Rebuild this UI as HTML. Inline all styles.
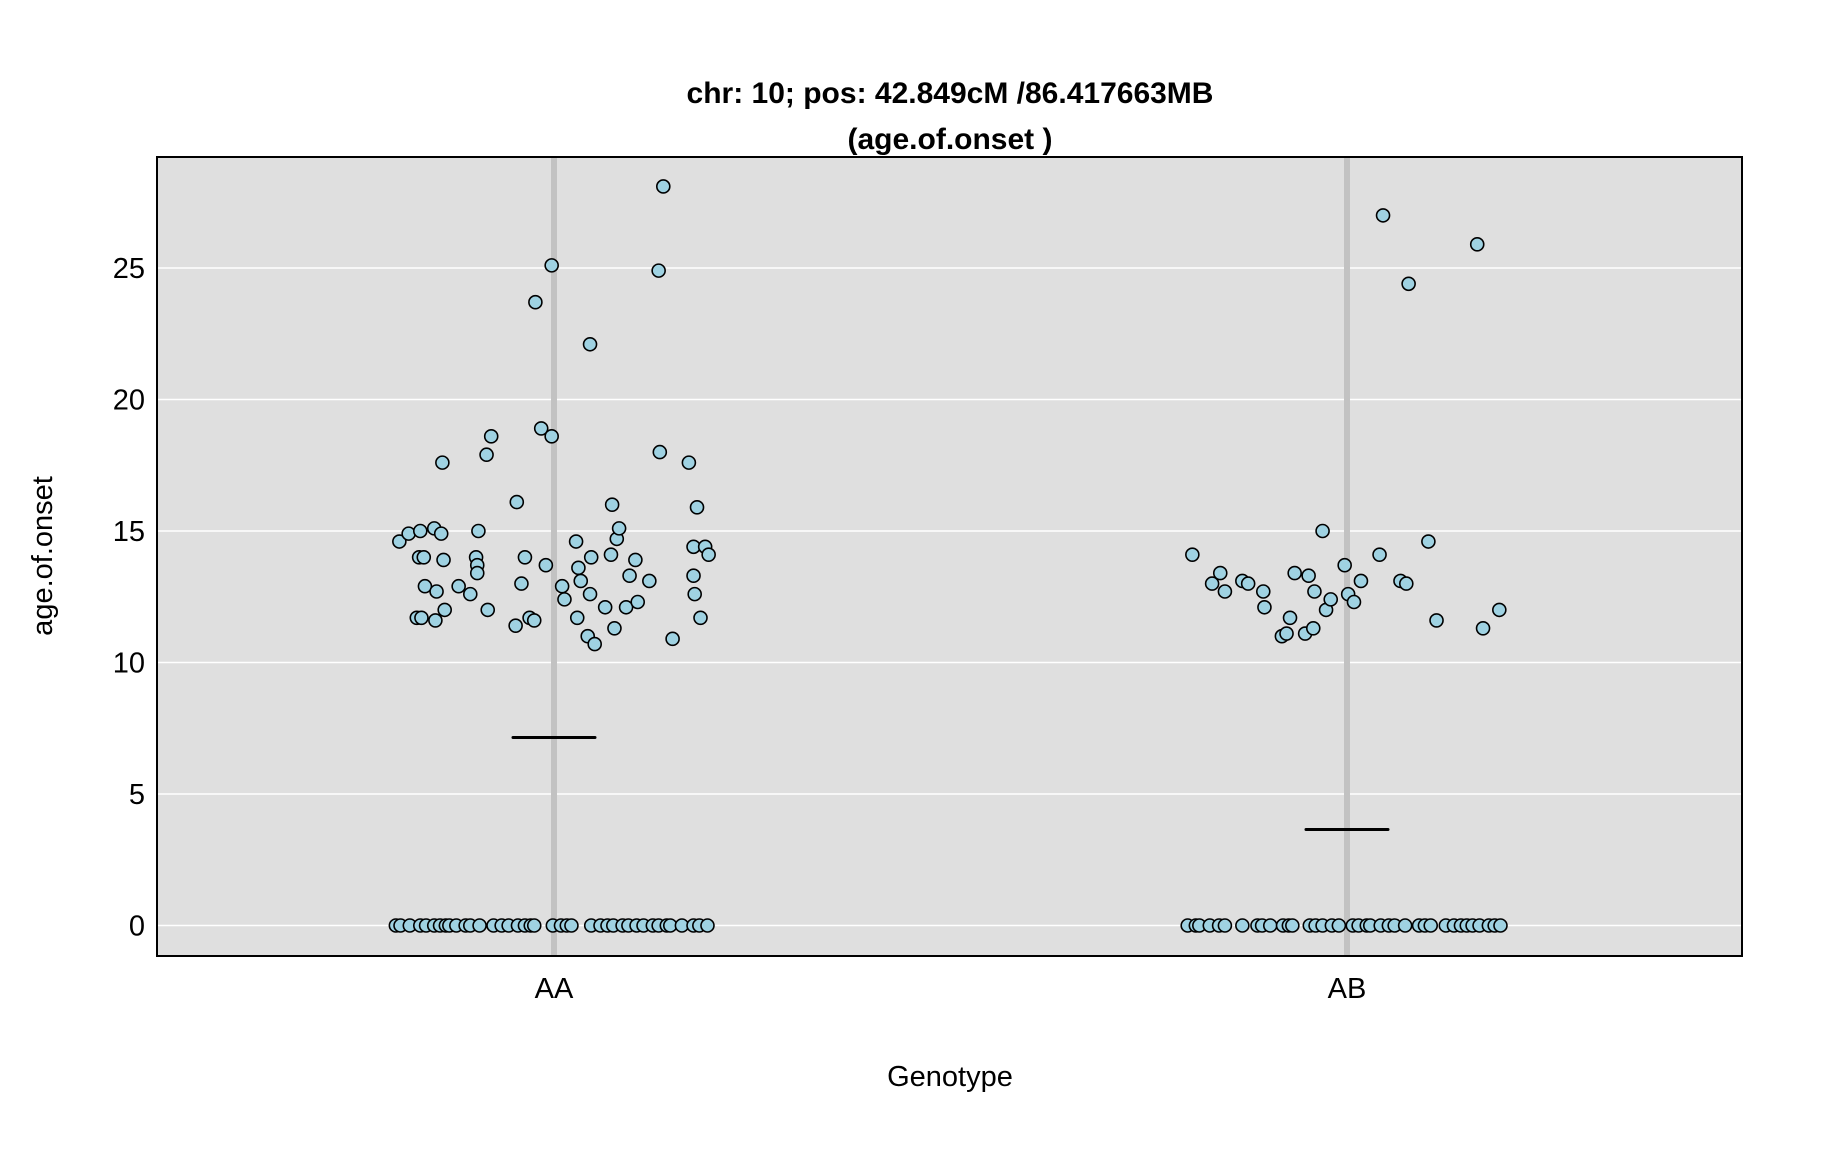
<!DOCTYPE html>
<html><head><meta charset="utf-8"><style>
html,body{margin:0;padding:0;background:#fff;}
svg{display:block;font-family:"Liberation Sans",Arial,sans-serif;}
</style></head><body>
<svg id="chart" width="1824" height="1152" viewBox="0 0 1824 1152" xmlns="http://www.w3.org/2000/svg">
<text x="950" y="103" text-anchor="middle" font-size="30" font-weight="bold">chr: 10; pos: 42.849cM /86.417663MB</text>
<text x="950" y="149" text-anchor="middle" font-size="30" font-weight="bold">(age.of.onset )</text>
<g id="plot"></g>
<text x="950" y="1086" text-anchor="middle" font-size="29">Genotype</text>
<text transform="translate(52,556) rotate(-90)" text-anchor="middle" font-size="29">age.of.onset</text>
</svg>
<script>
const categories = ["AA","AB"];
const yTicks = [0,5,10,15,20,25];
const means = [7.15, 3.65];
// AA non-zero points: jitter offsets and values
const aaJitter = [-133,-125,-115,-116,-112,-118,-114,-111,-103,-97,-96,-95,-101,-102,-94,-82,-72,-67,-66,-66,-65,-58,-54,-57,-32,-25,-28,-33,-21,-17,-16,-11,-2,-2,-7,7,9,19,21,23,20,31,32,31,29,35,44,50,49,54,56,52,65,70,62,72,82,90,94,91,102,116,123,120,130,133,120,121,126];
const aaValues = [14.6,14.9,15.0,14.0,14.0,11.7,11.7,12.9,15.1,14.9,17.6,13.9,12.7,11.6,12.0,12.9,12.6,14.0,13.7,13.4,15.0,17.9,18.6,12.0,16.1,14.0,13.0,11.4,11.7,11.6,23.7,18.9,18.6,25.1,13.7,12.9,12.4,14.6,13.6,13.1,11.7,22.1,14.0,12.6,11.0,10.7,12.1,16.0,14.1,14.7,15.1,11.3,13.3,13.9,12.1,12.3,13.1,24.9,28.1,18.0,10.9,17.6,15.9,14.4,14.4,14.1,13.3,12.6,11.7];
const aaZeroJitter = [-136,-132,-124,-115,-110,-103,-98,-93,-90,-84,-76,-72,-64,-52,-45,-39,-31,-25,-20,-17,-1,6,11,15,32,40,46,51,59,64,71,77,85,90,97,100,110,120,125,132];
// AB non-zero points
const abJitter = [-133,-116,-109,-105,-90,-85,-72,-71,-56,-52,-49,-45,-36,-33,-29,-28,-21,-18,-14,-2,1,6,12,28,31,46,51,53,70,77,112,117,131];
const abValues = [14.1,13.0,13.4,12.7,13.1,13.0,12.7,12.1,11.0,11.1,11.7,13.4,11.1,13.3,11.3,12.7,15.0,12.0,12.4,13.7,12.6,12.3,13.1,14.1,27.0,13.1,13.0,24.4,14.6,11.6,25.9,11.3,12.0];
const abZeroJitter = [-137,-130,-127,-118,-110,-105,-90,-77,-73,-66,-55,-50,-47,-32,-27,-21,-13,-7,5,10,17,20,29,36,41,50,62,67,72,85,92,98,103,108,114,122,127,132];

const NS = "http://www.w3.org/2000/svg";
const plot = document.getElementById('plot');
const L = 157, R = 1742, T = 157, B = 956;
const catX0 = 554, catStep = 793;
function xScale(c){ return catX0 + c * catStep; }
function yScale(v){ return 925.5 - v * 26.3; }
const jitterUnit = 682; // jitter offsets measured per this many units per category step
function mk(tag, attrs){ const e = document.createElementNS(NS, tag); for (const k in attrs) e.setAttribute(k, attrs[k]); return e; }

const bg = mk('rect', {x:L, y:T, width:R-L, height:B-T, fill:'#dfdfdf'});


plot.appendChild(bg);

yTicks.forEach(t => {
  const y = yScale(t);
  const g = mk('line', {x1:L, x2:R, y1:y, y2:y, stroke:'#ffffff', 'stroke-width':1.5});
  
  
  plot.appendChild(g);
  const lbl = mk('text', {x:145, y:y+10, 'text-anchor':'end', 'font-size':29});
  
  
  lbl.textContent = t;
  plot.appendChild(lbl);
});

categories.forEach((c, i) => {
  const x = xScale(i);
  const v = mk('line', {x1:x, x2:x, y1:T, y2:B, stroke:'#c2c2c2', 'stroke-width':6});
  
  
  plot.appendChild(v);
  const lbl = mk('text', {x:x, y:998, 'text-anchor':'middle', 'font-size':29});
  
  
  lbl.textContent = c;
  plot.appendChild(lbl);
});

function drawPoints(cat, jit, vals, name){
  jit.forEach((j, k) => {
    const cx = xScale(cat + j / jitterUnit);
    const cy = yScale(vals[k]);
    const p = mk('circle', {cx:cx, cy:cy, r:6.5, fill:'#9fd2e2', stroke:'#000', 'stroke-width':1.6});
    
    
    plot.appendChild(p);
  });
}
drawPoints(0, aaZeroJitter, aaZeroJitter.map(() => 0), 'point-aa');
drawPoints(0, aaJitter, aaValues, 'point-aa');
drawPoints(1, abZeroJitter, abZeroJitter.map(() => 0), 'point-ab');
drawPoints(1, abJitter, abValues, 'point-ab');

means.forEach((m, i) => {
  const x = xScale(i), y = yScale(m);
  const ml = mk('line', {x1:x-41, x2:x+41, y1:y, y2:y, stroke:'#000', 'stroke-width':3, 'stroke-linecap':'round'});
  
  
  plot.appendChild(ml);
});

const border = mk('rect', {x:L, y:T, width:R-L, height:B-T, fill:'none', stroke:'#000', 'stroke-width':2});


plot.appendChild(border);
</script>
</body></html>
